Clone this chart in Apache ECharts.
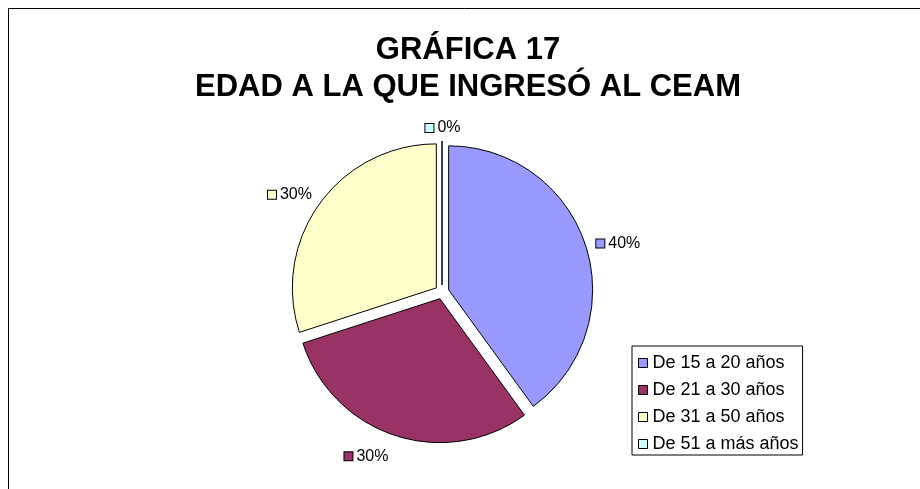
<!DOCTYPE html>
<html>
<head>
<meta charset="utf-8">
<script src="https://cdn.jsdelivr.net/npm/echarts@6/dist/echarts.min.js"></script>
<style>
  html, body { margin: 0; padding: 0; background: #fff; }
  #chart { width: 920px; height: 489px; }
</style>
</head>
<body>
<div id="chart"></div>
<script>
const categories = ['De 15 a 20 años', 'De 21 a 30 años', 'De 31 a 50 años', 'De 51 a más años']
const shares = [40, 30, 30, 0]
const colors = ['#9999FF', '#993366', '#FFFFCC', '#CCFFFF']

const FONT = '"Liberation Sans", Arial, sans-serif'

const chart = echarts.init(document.getElementById('chart'))

// square marker before each percentage, one rich style per slice colour
const rich = { t: { fontSize: 16, fontFamily: FONT, color: '#000', padding: [0, 0, 0, 4] } }
colors.forEach((c, i) => {
  rich['sq' + i] = { width: 8, height: 8, backgroundColor: c, borderColor: '#000', borderWidth: 1 }
})

const option = {
  animation: false,
  title: {
    text: 'GRÁFICA 17\nEDAD A LA QUE INGRESÓ AL CEAM',
    left: 468,
    top: 32,
    padding: 0,
    textAlign: 'center',
    textStyle: {
      fontFamily: FONT,
      fontWeight: 'bold',
      fontSize: 31,
      lineHeight: 37,
      color: '#000',
    },
  },
  legend: {
    orient: 'vertical',
    left: 632,
    top: 346,
    data: categories,
    backgroundColor: '#fff',
    borderColor: '#000',
    borderWidth: 1,
    padding: [8, 4, 2, 6],
    itemGap: 9,
    itemWidth: 9,
    itemHeight: 9,
    icon: 'rect',
    itemStyle: { borderColor: '#000', borderWidth: 1 },
    textStyle: { fontFamily: FONT, fontSize: 18, color: '#000', lineHeight: 18 },
    selectedMode: false,
  },
  graphic: [
    {
      type: 'rect',
      shape: { x: 8.5, y: 8.5, width: 1000, height: 1000 },
      style: { fill: 'none', stroke: '#000', lineWidth: 1 },
      silent: true,
    },
  ],
  series: [
    {
      type: 'pie',
      center: [442, 292],
      radius: 144,
      startAngle: 90,
      clockwise: true,
      selectedMode: 'multiple',
      selectedOffset: 7,
      avoidLabelOverlap: false,
      itemStyle: { borderColor: '#000', borderWidth: 1 },
      select: { itemStyle: { borderColor: '#000', borderWidth: 1 } },
      emphasis: { disabled: true },
      label: {
        show: true,
        position: 'outside',
        formatter: (p) => '{sq' + p.dataIndex + '|}{t|' + Math.round(p.percent) + '%}',
        rich: rich,
      },
      labelLine: { show: false, length: 6, length2: 0 },
      labelLayout: (p) => {
        if (p.dataIndex === 1) return { dy: 15 }
        if (p.dataIndex === 2) return { dx: 2, dy: -5 }
        if (p.dataIndex === 3) return { dy: -7, dx: 6, align: 'center' }
        return {}
      },
      data: categories.map((name, i) => ({
        name: name,
        value: shares[i],
        selected: true,
        itemStyle: { color: colors[i] },
      })),
    },
  ],
}

chart.setOption(option)
</script>
</body>
</html>
